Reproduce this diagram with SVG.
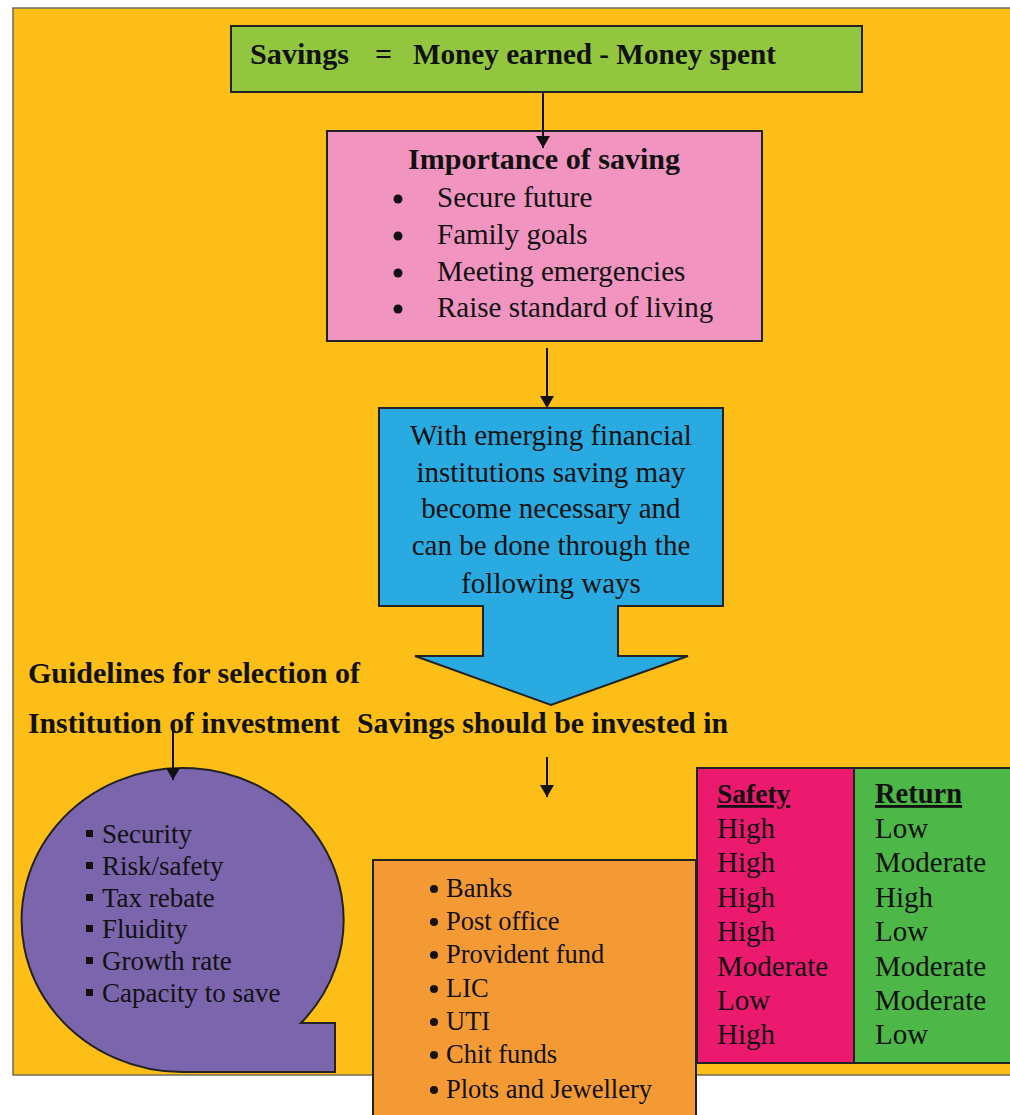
<svg xmlns="http://www.w3.org/2000/svg" width="1010" height="1115" viewBox="0 0 1010 1115">
<defs>
<style>
.bx{stroke:#222;stroke-width:2}
.t{font-family:"Liberation Serif","Times New Roman",serif;fill:#111}
.b{font-weight:bold}
.r{font-size:29px}
.cn{stroke:#111;stroke-width:2;fill:none;marker-end:url(#ah)}
</style>
<marker id="ah" viewBox="0 0 12 14" refX="12" refY="7" markerWidth="12" markerHeight="14" markerUnits="userSpaceOnUse" orient="auto">
<path d="M0,0 L12,7 L0,14 Z" fill="#111"/>
</marker>
</defs>
<rect x="0" y="0" width="1010" height="1115" fill="#ffffff"/>
<rect id="background" x="13" y="8" width="1010" height="1067" fill="#FDBE17" stroke="#6b6b5a" stroke-width="1.5"/>

<g id="node-equation">
<rect class="bx" x="231" y="26" width="631" height="66" fill="#92C63E"/>
<text class="t b" font-size="30" y="64"><tspan x="250" textLength="99" lengthAdjust="spacingAndGlyphs">Savings</tspan><tspan x="375">=</tspan><tspan x="413" textLength="363" lengthAdjust="spacingAndGlyphs">Money earned - Money spent</tspan></text>
</g>

<g id="node-importance">
<rect class="bx" x="327" y="131" width="435" height="210" fill="#F294C0"/>
<text class="t b" font-size="30" x="544" y="169" text-anchor="middle" textLength="272" lengthAdjust="spacingAndGlyphs">Importance of saving</text>
<g fill="#111"><circle cx="398" cy="199" r="4.5"/><circle cx="398" cy="236" r="4.5"/><circle cx="398" cy="273" r="4.5"/><circle cx="398" cy="309" r="4.5"/></g>
<text class="t r" x="437" y="207">Secure future</text>
<text class="t r" x="437" y="244">Family goals</text>
<text class="t r" x="437" y="281">Meeting emergencies</text>
<text class="t r" x="437" y="317">Raise standard of living</text>
</g>

<g id="node-ways">
<path class="bx" d="M379,408 L723,408 L723,606 L618,606 L618,656 L688,656 L551,705 L415,656 L483,656 L483,606 L379,606 Z" fill="#29ABE2"/>
<g class="t r" text-anchor="middle">
<text x="551" y="445">With emerging financial</text>
<text x="551" y="482">institutions saving may</text>
<text x="551" y="518">become necessary and</text>
<text x="551" y="555">can be done through the</text>
<text x="551" y="593">following ways</text>
</g>
</g>

<g id="label-guidelines">
<text class="t b" font-size="30" x="28" y="683" textLength="332" lengthAdjust="spacingAndGlyphs">Guidelines for selection of</text>
<text class="t b" font-size="30" x="28" y="733" textLength="312" lengthAdjust="spacingAndGlyphs">Institution of investment</text>
</g>
<g id="label-invested">
<text class="t b" font-size="30" x="357" y="733" textLength="371" lengthAdjust="spacingAndGlyphs">Savings should be invested in</text>
</g>

<g id="node-guidelines">
<path class="bx" d="M183,1072 A161,152 0 1 1 301,1023 L335,1023 L335,1072 Z" fill="#7B65AD"/>
<g fill="#111"><rect x="86" y="830" width="7" height="7"/><rect x="86" y="862" width="7" height="7"/><rect x="86" y="894" width="7" height="7"/><rect x="86" y="925" width="7" height="7"/><rect x="86" y="957" width="7" height="7"/><rect x="86" y="989" width="7" height="7"/></g>
<g class="t" font-size="27">
<text x="102" y="843">Security</text>
<text x="102" y="875">Risk/safety</text>
<text x="102" y="907">Tax rebate</text>
<text x="102" y="938">Fluidity</text>
<text x="102" y="970">Growth rate</text>
<text x="102" y="1002">Capacity to save</text>
</g>
</g>

<g id="node-institutions">
<rect class="bx" x="373" y="860" width="323" height="270" fill="#F49A35"/>
<g fill="#111"><circle cx="434" cy="889" r="4"/><circle cx="434" cy="922" r="4"/><circle cx="434" cy="955" r="4"/><circle cx="434" cy="989" r="4"/><circle cx="434" cy="1022" r="4"/><circle cx="434" cy="1055" r="4"/><circle cx="434" cy="1090" r="4"/></g>
<g class="t" font-size="26.5">
<text x="446" y="897">Banks</text>
<text x="446" y="930">Post office</text>
<text x="446" y="963">Provident fund</text>
<text x="446" y="997">LIC</text>
<text x="446" y="1030">UTI</text>
<text x="446" y="1063">Chit funds</text>
<text x="446" y="1098">Plots and Jewellery</text>
</g>
</g>

<g id="node-safety">
<rect class="bx" x="697" y="768" width="157" height="295" fill="#EC1A6E"/>
<text class="t b" font-size="27.5" x="717" y="803" text-decoration="underline">Safety</text>
<g class="t r">
<text x="717" y="838">High</text>
<text x="717" y="872">High</text>
<text x="717" y="907">High</text>
<text x="717" y="941">High</text>
<text x="717" y="976">Moderate</text>
<text x="717" y="1010">Low</text>
<text x="717" y="1044">High</text>
</g>
</g>

<g id="node-return">
<rect class="bx" x="854" y="768" width="170" height="295" fill="#4DB748"/>
<text class="t b" font-size="28.5" x="875" y="803" text-decoration="underline">Return</text>
<g class="t r">
<text x="875" y="838">Low</text>
<text x="875" y="872">Moderate</text>
<text x="875" y="907">High</text>
<text x="875" y="941">Low</text>
<text x="875" y="976">Moderate</text>
<text x="875" y="1010">Moderate</text>
<text x="875" y="1044">Low</text>
</g>
</g>

<g id="connectors">
<line class="cn" x1="543" y1="92" x2="543" y2="148"/>
<line class="cn" x1="547" y1="348" x2="547" y2="408"/>
<line class="cn" x1="173" y1="727" x2="173" y2="780"/>
<line class="cn" x1="547" y1="757" x2="547" y2="797"/>
</g>
</svg>
